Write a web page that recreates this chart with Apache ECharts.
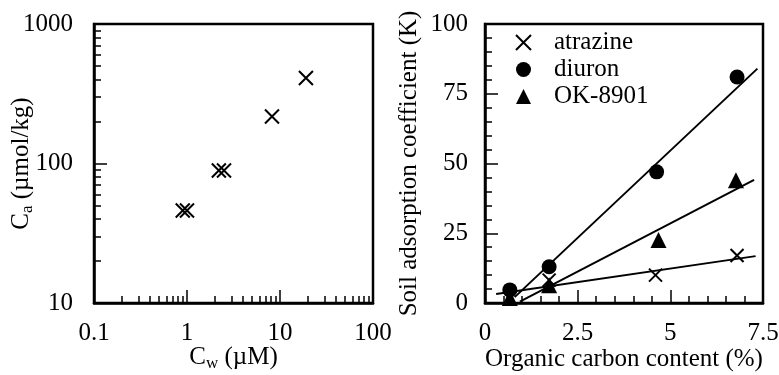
<!DOCTYPE html>
<html>
<head>
<meta charset="utf-8">
<script src="https://cdn.jsdelivr.net/npm/echarts@6/dist/echarts.min.js"></script>
<style>
  html, body { margin: 0; padding: 0; background: #fff; }
  #chart { width: 779px; height: 375px; }
</style>
</head>
<body>
<div id="chart"></div>
<script>
// Left panel: sorption isotherm on log-log axes (Cw in µM, Ca in µmol/kg)
const isothermCw = [0.90, 1.0, 2.2, 2.5, 8.2, 19];
const isothermCa = [46, 46, 89, 89, 217, 410];

// Right panel: soil adsorption coefficient K vs organic carbon content (%)
const carbonAtrazine = [0.67, 1.73, 4.6, 6.8];
const kAtrazine = [1.7, 8.2, 10, 17];
const carbonDiuron = [0.67, 1.73, 4.63, 6.8];
const kDiuron = [4.7, 13, 47, 81];
const carbonOK = [0.67, 1.73, 4.68, 6.77];
const kOK = [1.8, 6.4, 22.6, 44];

// Straight-line fits: [start, end] in (carbon %, K)
const fitAtrazine = [[0.3, 3.2], [7.3, 16.8]];
const fitDiuron = [[0.8, 2.1], [7.35, 84]];
const fitOK = [[0.94, 0.5], [7.26, 44.1]];

// Tick values
const leftXMinorTicks = [0.2, 0.3, 0.4, 0.5, 0.6, 0.7, 0.8, 0.9, 2, 3, 4, 5, 6, 7, 8, 9, 20, 30, 40, 50, 60, 70, 80, 90];
const leftYMinorTicks = [20, 30, 40, 50, 60, 70, 80, 90, 200, 300, 400, 500, 600, 700, 800, 900];

const FONT = "'Liberation Serif', 'Times New Roman', serif";
const BLACK = '#000';
const CROSS = 'path://M0,0L10,10M10,0L0,10';

const pairs = (xs, ys) => xs.map((x, i) => [x, ys[i]]);
const plain = v => String(v);

const labelStyle = { color: BLACK, fontFamily: FONT, fontSize: 25, formatter: plain };
const nameRich = {
  m: { fontFamily: FONT, fontSize: 25, color: BLACK, lineHeight: 30 },
  s: { fontFamily: FONT, fontSize: 17, color: BLACK, lineHeight: 16, verticalAlign: 'bottom' }
};

function mainAxis(extra) {
  return Object.assign({
    axisLine: { show: true, lineStyle: { color: BLACK, width: 2.5 } },
    axisTick: { show: true, inside: true, length: 13, lineStyle: { color: BLACK, width: 1.5 } },
    axisLabel: Object.assign({ margin: 18 }, labelStyle),
    splitLine: { show: false },
    nameMoveOverlap: false,
    nameTextStyle: { fontFamily: FONT, fontSize: 25, color: BLACK, rich: nameRich }
  }, extra);
}

function minorLogAxis(extra, ticks) {
  return Object.assign({
    type: 'log', logBase: 10,
    axisLine: { show: false },
    axisLabel: { show: false },
    splitLine: { show: false },
    axisTick: { show: true, inside: true, length: 7, customValues: ticks, lineStyle: { color: BLACK, width: 1.5 } }
  }, extra);
}

const crossStyle = { color: 'rgba(0,0,0,0)', borderColor: BLACK, borderWidth: 2, opacity: 1 };
const solidStyle = { color: BLACK, opacity: 1 };

const chart = echarts.init(document.getElementById('chart'), null, { renderer: 'canvas' });

chart.setOption({
  backgroundColor: '#fff',
  animation: false,
  grid: [
    { left: 94, top: 24, width: 279, height: 279, show: true, borderColor: BLACK, borderWidth: 2.5,
      containLabel: false, outerBoundsMode: 'none' },
    { left: 485, top: 24, width: 278, height: 279, show: true, borderColor: BLACK, borderWidth: 2.5,
      containLabel: false, outerBoundsMode: 'none' }
  ],
  legend: {
    data: ['atrazine', 'diuron', 'OK-8901'],
    orient: 'vertical',
    left: 510,
    top: 25,
    itemWidth: 15,
    itemHeight: 15,
    itemGap: 2,
    textStyle: { fontFamily: FONT, fontSize: 25, color: BLACK, padding: [0, 0, 0, 18] }
  },
  xAxis: [
    mainAxis({
      gridIndex: 0, type: 'log', logBase: 10, min: 0.1, max: 100,
      name: '{m|C}{s|w}{m| (µM)}', nameLocation: 'middle', nameGap: 39
    }),
    minorLogAxis({ gridIndex: 0, min: 0.1, max: 100, position: 'bottom' }, leftXMinorTicks),
    mainAxis({
      gridIndex: 1, type: 'value', min: 0, max: 7.5, interval: 2.5,
      minorTick: { show: true, splitNumber: 5, length: 7, lineStyle: { color: BLACK, width: 1.5 } },
      name: 'Organic carbon content (%)', nameLocation: 'middle', nameGap: 44
    })
  ],
  yAxis: [
    mainAxis({
      gridIndex: 0, type: 'log', logBase: 10, min: 10, max: 1000,
      axisLabel: Object.assign({ margin: 21 }, labelStyle),
      name: '{m|C}{s|a}{m| (µmol/kg)}', nameLocation: 'middle', nameRotate: 90, nameGap: 58
    }),
    minorLogAxis({ gridIndex: 0, min: 10, max: 1000, position: 'left' }, leftYMinorTicks),
    mainAxis({
      gridIndex: 1, type: 'value', min: 0, max: 100, interval: 25,
      minorTick: { show: true, splitNumber: 5, length: 7, lineStyle: { color: BLACK, width: 1.5 } },
      axisLabel: Object.assign({ margin: 17 }, labelStyle),
      name: 'Soil adsorption coefficient (K)', nameLocation: 'middle', nameRotate: 90, nameGap: 63
    })
  ],
  series: [
    {
      name: 'isotherm', type: 'scatter', xAxisIndex: 0, yAxisIndex: 0,
      symbol: CROSS, symbolSize: 14, itemStyle: crossStyle,
      data: pairs(isothermCw, isothermCa), z: 3
    },
    {
      name: 'fit-atrazine', type: 'line', xAxisIndex: 2, yAxisIndex: 2,
      symbol: 'none', lineStyle: { color: BLACK, width: 2 }, data: fitAtrazine, z: 2
    },
    {
      name: 'fit-diuron', type: 'line', xAxisIndex: 2, yAxisIndex: 2,
      symbol: 'none', lineStyle: { color: BLACK, width: 2 }, data: fitDiuron, z: 2
    },
    {
      name: 'fit-OK-8901', type: 'line', xAxisIndex: 2, yAxisIndex: 2,
      symbol: 'none', lineStyle: { color: BLACK, width: 2 }, data: fitOK, z: 2
    },
    {
      name: 'atrazine', type: 'scatter', xAxisIndex: 2, yAxisIndex: 2,
      symbol: CROSS, symbolSize: 13, itemStyle: crossStyle,
      data: pairs(carbonAtrazine, kAtrazine), z: 3
    },
    {
      name: 'diuron', type: 'scatter', xAxisIndex: 2, yAxisIndex: 2,
      symbol: 'circle', symbolSize: 15, itemStyle: solidStyle,
      data: pairs(carbonDiuron, kDiuron), z: 3
    },
    {
      name: 'OK-8901', type: 'scatter', xAxisIndex: 2, yAxisIndex: 2,
      symbol: 'triangle', symbolSize: 16, itemStyle: solidStyle,
      data: pairs(carbonOK, kOK), z: 3
    }
  ]
});
</script>
</body>
</html>
